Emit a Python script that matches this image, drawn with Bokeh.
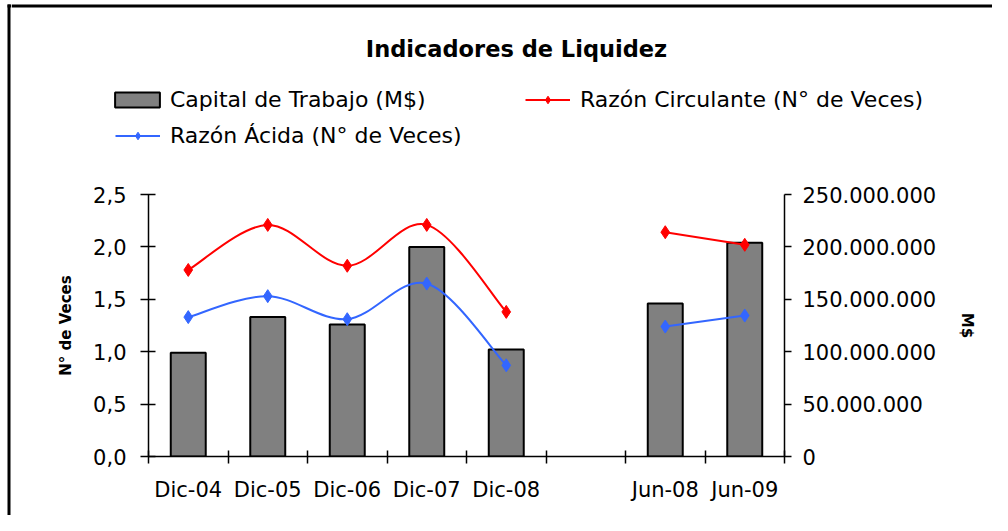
from bokeh.plotting import figure
from bokeh.layouts import row, column
from bokeh.models import (Range1d, LinearAxis, FixedTicker, CustomJSTickFormatter,
                          Legend, LegendItem, Label, ColumnDataSource, BoxAnnotation)
from bokeh.embed import file_html
from bokeh.resources import INLINE

# ---------------- data ----------------
categories = ["Dic-04", "Dic-05", "Dic-06", "Dic-07", "Dic-08", "", "Jun-08", "Jun-09"]
capital = [99e6, 133e6, 126e6, 200e6, 102e6, None, 146e6, 204e6]      # M$
circulante = [1.78, 2.21, 1.82, 2.21, 1.38, None, 2.14, 2.02]        # N° de veces
acida = [1.33, 1.53, 1.31, 1.65, 0.87, None, 1.24, 1.345]            # N° de veces
left_ticks = [0, 0.5, 1.0, 1.5, 2.0, 2.5]
right_ticks = [0, 50e6, 100e6, 150e6, 200e6, 250e6]
left_max = 2.5
right_max = 250e6
smoothed_group = [0, 1, 2, 3, 4]     # Dic series drawn with smoothed line
straight_group = [6, 7]              # Jun series drawn with straight line

FONT = "DejaVu Sans"
RED = "#ff0000"
BLUE = "#3366ff"
BAR = "#808080"

# layout (pixels)
STRIP_W = 11
W = 992 - STRIP_W
TOP_H = 175
MAIN_H = 340
TOTAL_H = TOP_H + MAIN_H

xs = [i + 0.5 for i in range(len(categories))]


def bare_figure(w, h):
    f = figure(width=w, height=h, x_range=Range1d(0, w), y_range=Range1d(0, h),
               output_backend="svg", toolbar_location=None, x_axis_type=None,
               y_axis_type=None, min_border=0)
    f.outline_line_color = None
    f.xgrid.visible = False
    f.ygrid.visible = False
    return f


# ---------------- left border strip ----------------
strip = bare_figure(STRIP_W, TOTAL_H)
strip.add_layout(BoxAnnotation(left=7, right=10, top=TOTAL_H - 4, bottom=0,
                               fill_color="black", fill_alpha=1, line_color=None))
strip.add_layout(BoxAnnotation(left=7, right=STRIP_W, top=TOTAL_H - 4, bottom=TOTAL_H - 7,
                               fill_color="black", fill_alpha=1, line_color=None))

# ---------------- header: title + legend ----------------
top = bare_figure(W, TOP_H)
top.add_layout(BoxAnnotation(left=0, right=W, top=TOP_H - 4, bottom=TOP_H - 7,
                             fill_color="black", fill_alpha=1, line_color=None))
top.add_layout(Label(x=505, y=TOP_H - 48, x_units="screen", y_units="screen",
                     text="Indicadores de Liquidez", text_font=FONT, text_font_style="bold",
                     text_font_size="22.5px", text_align="center", text_baseline="middle",
                     text_color="black"))

# legend proxies: same styling as the plotted series, hidden (only their legend swatch shows)
lg_bar = top.vbar(x=[xs[0]], top=[capital[0]], width=1, fill_color=BAR, line_color="black",
                  line_width=2, visible=False)
lg_circ_l = top.line(x=[xs[0]], y=[circulante[0]], line_color=RED, line_width=2, visible=False)
lg_circ_m = top.scatter(x=[xs[0]], y=[circulante[0]], marker="diamond", size=13,
                        fill_color=RED, line_color=RED, visible=False)
lg_acid_l = top.line(x=[xs[0]], y=[acida[0]], line_color=BLUE, line_width=2, visible=False)
lg_acid_m = top.scatter(x=[xs[0]], y=[acida[0]], marker="diamond", size=13,
                        fill_color=BLUE, line_color=BLUE, visible=False)


def make_legend(label, rends, x, yc, gw, gh, standoff):
    lg = Legend(items=[LegendItem(label=label, renderers=list(rends))],
                location=(x, TOP_H - yc - gh / 2),
                orientation="vertical", padding=0, margin=0, border_line_color=None,
                background_fill_alpha=0, glyph_width=gw, glyph_height=gh,
                label_standoff=standoff, label_height=gh, label_text_font=FONT,
                label_text_font_size="22px", label_text_color="black",
                inactive_fill_alpha=0, click_policy="none")
    top.add_layout(lg)


make_legend("Capital de Trabajo (M$)", [lg_bar], 109 - STRIP_W, 102, 56, 19, 5)
make_legend("Razón Circulante (N° de Veces)", [lg_circ_l, lg_circ_m], 525 - STRIP_W, 102, 45, 19, 10)
make_legend("Razón Ácida (N° de Veces)", [lg_acid_l, lg_acid_m], 115 - STRIP_W, 138, 45, 19, 10)

# ---------------- main chart ----------------
p = figure(width=W, height=MAIN_H, x_range=Range1d(0, len(categories)),
           y_range=Range1d(0, left_max), output_backend="svg", toolbar_location=None,
           min_border_left=148 - STRIP_W, min_border_right=W - (784 - STRIP_W),
           min_border_top=194 - TOP_H, min_border_bottom=MAIN_H - (456 - TOP_H))
p.outline_line_color = None
p.xgrid.visible = False
p.ygrid.visible = False
p.extra_y_ranges = {"m": Range1d(0, right_max)}

bar_idx = [i for i, v in enumerate(capital) if v is not None]
bar_src = ColumnDataSource(dict(x=[xs[i] for i in bar_idx], top=[capital[i] for i in bar_idx]))
p.vbar(x="x", top="top", width=0.44, bottom=0, source=bar_src, y_range_name="m",
       fill_color=BAR, line_color="black", line_width=2)


def smooth_segments(idx, vals):
    pts = [(xs[i], vals[i]) for i in idx]
    n = len(pts)
    segs = dict(x0=[], y0=[], x1=[], y1=[], cx0=[], cy0=[], cx1=[], cy1=[])
    for k in range(n - 1):
        pm = pts[max(k - 1, 0)]
        p0 = pts[k]
        p1 = pts[k + 1]
        p2 = pts[min(k + 2, n - 1)]
        segs["x0"].append(p0[0]); segs["y0"].append(p0[1])
        segs["x1"].append(p1[0]); segs["y1"].append(p1[1])
        segs["cx0"].append(p0[0] + (p1[0] - pm[0]) / 6.0)
        segs["cy0"].append(p0[1] + (p1[1] - pm[1]) / 6.0)
        segs["cx1"].append(p1[0] - (p2[0] - p0[0]) / 6.0)
        segs["cy1"].append(p1[1] - (p2[1] - p0[1]) / 6.0)
    return ColumnDataSource(segs)


for vals, color in [(circulante, RED), (acida, BLUE)]:
    p.bezier(x0="x0", y0="y0", x1="x1", y1="y1", cx0="cx0", cy0="cy0", cx1="cx1", cy1="cy1",
             source=smooth_segments(smoothed_group, vals), line_color=color, line_width=2)
    p.line([xs[i] for i in straight_group], [vals[i] for i in straight_group],
           line_color=color, line_width=2)
    pidx = [i for i, v in enumerate(vals) if v is not None]
    p.scatter([xs[i] for i in pidx], [vals[i] for i in pidx], marker="diamond",
              size=13, fill_color=color, line_color=color)

# x axis
ax = p.xaxis[0]
ax.ticker = FixedTicker(ticks=[xs[i] for i, c in enumerate(categories) if c],
                        minor_ticks=list(range(len(categories) + 1)))
ax.formatter = CustomJSTickFormatter(args=dict(labels=categories),
                                     code="return labels[Math.floor(tick)];")
ax.major_tick_in = 0
ax.major_tick_out = 0
ax.minor_tick_in = 6
ax.minor_tick_out = 7
ax.minor_tick_line_color = "black"
ax.minor_tick_line_width = 1.5
ax.axis_line_color = "black"
ax.axis_line_width = 1.5
ax.major_label_standoff = 14
ax.major_label_text_font = FONT
ax.major_label_text_font_size = "21px"
ax.major_label_text_color = "black"

# left axis
ay = p.yaxis[0]
ay.ticker = FixedTicker(ticks=left_ticks)
ay.formatter = CustomJSTickFormatter(code="return tick.toFixed(1).replace('.', ',');")
ay.major_tick_in = 7
ay.major_tick_out = 8
ay.minor_tick_line_color = None
ay.major_tick_line_color = "black"
ay.major_tick_line_width = 1.5
ay.axis_line_color = "black"
ay.axis_line_width = 1.5
ay.major_label_standoff = 14
ay.major_label_text_font = FONT
ay.major_label_text_font_size = "21px"
ay.major_label_text_color = "black"
ay.axis_label = "N° de Veces"
ay.axis_label_text_font = FONT
ay.axis_label_text_font_style = "bold"
ay.axis_label_text_font_size = "15px"
ay.axis_label_text_color = "black"
ay.axis_label_standoff = 15

# right axis
ar = LinearAxis(y_range_name="m", ticker=FixedTicker(ticks=right_ticks),
                formatter=CustomJSTickFormatter(
                    code="return Math.round(tick).toString().replace(/\\B(?=(\\d{3})+(?!\\d))/g, '.');"))
ar.major_tick_in = 0
ar.major_tick_out = 7
ar.minor_tick_line_color = None
ar.major_tick_line_color = "black"
ar.major_tick_line_width = 1.5
ar.axis_line_color = "black"
ar.axis_line_width = 1.5
ar.major_label_standoff = 11
ar.major_label_text_font = FONT
ar.major_label_text_font_size = "21px"
ar.major_label_text_color = "black"
ar.axis_label = "M$"
ar.axis_label_text_font = FONT
ar.axis_label_text_font_style = "bold"
ar.axis_label_text_font_size = "15px"
ar.axis_label_text_color = "black"
ar.axis_label_standoff = 19
p.add_layout(ar, "right")

layout = row(strip, column(row(top, spacing=0), p, spacing=0), spacing=0)

open("out.html", "w").write(file_html(layout, INLINE))
